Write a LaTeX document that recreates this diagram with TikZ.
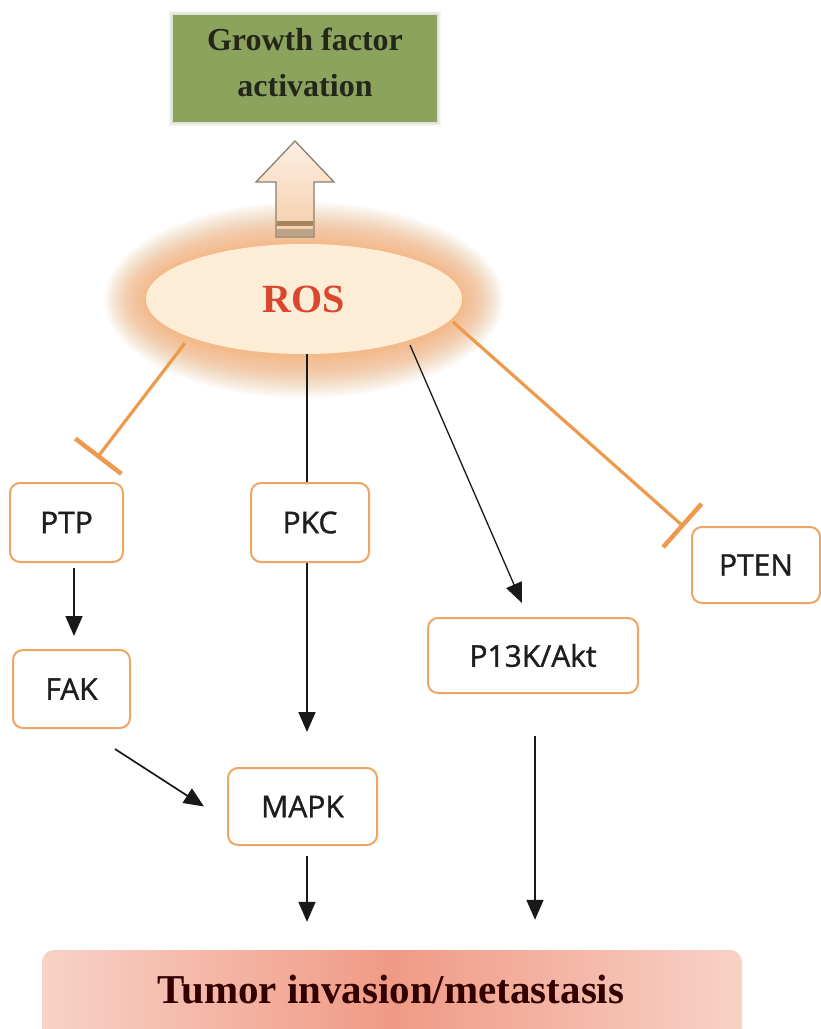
\documentclass[tikz,border=0pt]{standalone}
\usepackage{fontspec}
\setmainfont{Liberation Serif}
\newfontfamily\boxfont[FakeBold=1.2]{Open Sans}
\usetikzlibrary{arrows.meta,shapes.geometric}
\definecolor{orangeln}{HTML}{EE9A4D}
\definecolor{boxedge}{HTML}{EFA565}
\definecolor{rosfill}{HTML}{FDEDD6}
\definecolor{glow}{HTML}{F3A25C}
\definecolor{rosred}{HTML}{D9482E}
\definecolor{gfgreen}{HTML}{8BA35C}
\definecolor{gftext}{HTML}{25261A}
\definecolor{tumorA}{HTML}{F8D2C7}
\definecolor{tumorB}{HTML}{F09A85}
\definecolor{arrowedge}{HTML}{8A7F6C}
\definecolor{arrowtop}{HTML}{FCEFE4}
\definecolor{arrowbot}{HTML}{F6CDA8}
\definecolor{stripe}{HTML}{A3845E}
\definecolor{inktext}{HTML}{1E1E1E}
\begin{document}
\begin{tikzpicture}[x=1pt,y=-1pt,
  pbox/.style={draw=boxedge, line width=2pt, rounded corners=10pt, fill=white,
    font=\boxfont\fontsize{30}{36}\selectfont, text=inktext, inner sep=0pt},
  act/.style={draw=black!90, line width=1.7pt, -{Triangle[length=20pt,width=17pt]}},
  plainln/.style={draw=black!90, line width=1.6pt},
  inhib/.style={draw=orangeln, line width=3.2pt, -{Bar[width=58pt,line width=4.5pt]}},
]
\useasboundingbox (0,0) rectangle (821,1029);
\fill[white] (0,0) rectangle (821,1029);

% growth factor box
\foreach \i in {1,...,4}
  \fill[gfgreen!70!black, opacity=0.06] (173-\i,15-\i) rectangle (437+\i,122+\i);
\node[fill=gfgreen, minimum width=264pt, minimum height=107pt, inner sep=0pt] (gf) at (305,68.5) {};
\node[font=\bfseries\fontsize{32}{46}\selectfont, text=gftext, align=center, yshift=6pt] (gftxt) at (gf.center) {Growth factor\\activation};

% glow around ROS
\foreach \i in {1,...,42}
  \fill[glow, opacity=0.022] (304,300) ellipse [x radius={158+\i}, y radius={56+\i}];

% block arrow
\draw[arrowedge, line width=1.3pt, top color=arrowtop, bottom color=arrowbot]
  (295,141) -- (334,182) -- (314,182) -- (314,237) -- (276,237) -- (276,182) -- (256,182) -- cycle;
\fill[stripe] (277,221) rectangle (313,226);
\fill[stripe!75] (277,229) rectangle (313,236);

% ROS
\node[ellipse, fill=rosfill, minimum width=316pt, minimum height=110pt, inner sep=0pt,
  font=\bfseries\fontsize{40}{48}\selectfont, text=rosred] (ros) at (304,299) {ROS};

% protein boxes
\node[pbox, minimum width=113pt, minimum height=79pt] (ptp) at (66.5,522.5) {PTP};
\node[pbox, minimum width=118pt, minimum height=79pt] (pkc) at (310,522.5) {PKC};
\node[pbox, minimum width=128pt, minimum height=76pt] (pten) at (756,565) {PTEN};
\node[pbox, minimum width=210pt, minimum height=75pt] (pi3k) at (533,655.5) {P13K/Akt};
\node[pbox, minimum width=117pt, minimum height=78pt] (fak) at (71.5,689) {FAK};
\node[pbox, minimum width=149pt, minimum height=77pt] (mapk) at (302.5,806.5) {MAPK};

% tumor box
\node[left color=tumorA, right color=tumorA, middle color=tumorB, rounded corners=12pt,
  minimum width=700pt, minimum height=100pt, inner sep=0pt] (tumor) at (392,1000) {};
\node[font=\bfseries\fontsize{41}{48}\selectfont, text=black!80!red] (tumortxt) at (391,990) {Tumor invasion/metastasis};

% connectors
\draw[inhib] ([xshift=-119pt,yshift=-44pt]ros.center) -- ([xshift=30.5pt,yshift=64.5pt]ptp.center);
\draw[inhib] ([xshift=149pt,yshift=-23pt]ros.center) -- ([xshift=-72pt,yshift=38pt]pten.center);
\draw[plainln] ([xshift=3pt]ros.south) -- ([xshift=-3pt]pkc.north);
\draw[act, line width=1.3pt] ([xshift=106pt,yshift=-46pt]ros.center) -- ([xshift=-11pt,yshift=52.5pt]pi3k.center);
\draw[act] ([xshift=7.5pt,yshift=-5pt]ptp.south) -- ([xshift=2.5pt,yshift=13pt]fak.north);
\draw[act] ([xshift=43.5pt,yshift=-20pt]fak.south) -- ([xshift=-23pt]mapk.west);
\draw[act] ([xshift=-3pt]pkc.south) -- ([xshift=4.5pt,yshift=35pt]mapk.north);
\draw[act] ([xshift=4.5pt,yshift=-10pt]mapk.south) -- ([xshift=-85pt,yshift=28pt]tumor.north);
\draw[act] ([xshift=2pt,yshift=-42pt]pi3k.south) -- ([xshift=143pt,yshift=30pt]tumor.north);
\end{tikzpicture}
\end{document}
